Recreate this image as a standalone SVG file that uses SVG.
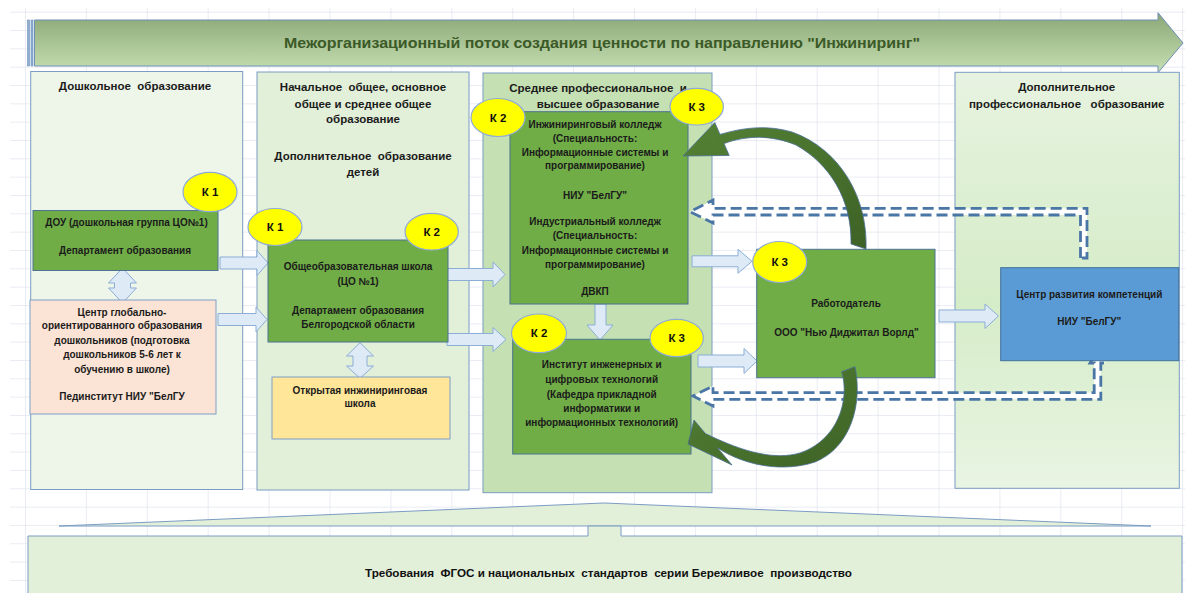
<svg xmlns="http://www.w3.org/2000/svg" width="1185" height="593" viewBox="0 0 1185 593" xml:space="preserve">
<defs>
<linearGradient id="gBanner" x1="0" y1="0" x2="0" y2="1">
<stop offset="0" stop-color="#8ba676"/><stop offset="1" stop-color="#c6e0b3"/>
</linearGradient>
<linearGradient id="gCol4" x1="0" y1="0" x2="0" y2="1">
<stop offset="0" stop-color="#e7f3e0"/><stop offset="0.55" stop-color="#d5ecc8"/><stop offset="1" stop-color="#e9f5e3"/>
</linearGradient>
<linearGradient id="gCurve" x1="0" y1="0" x2="1" y2="1">
<stop offset="0" stop-color="#548235"/><stop offset="1" stop-color="#3e6226"/>
</linearGradient>
<pattern id="grid" x="25" y="11.7" width="60.9" height="18.33" patternUnits="userSpaceOnUse">
<path d="M0,0 V18.33 M0,0 H60.9" fill="none" stroke="#d6dae8" stroke-width="1"/>
</pattern>
</defs>
<style>
.col{stroke:#7b9cc4;stroke-width:1}
.gbox{fill:#70ad47;stroke:#4d7390;stroke-width:1}
.k{fill:#ffff00;stroke:#8eaad8;stroke-width:1.2}
.ba{fill:#deebf7;stroke:#8badd6;stroke-width:1}
.dash{fill:#ffffff;stroke:#4a76a6;stroke-width:2.8;stroke-dasharray:11 5}
.curve{fill:url(#gCurve);stroke:#4a6f95;stroke-width:0.8}
text{font-family:"Liberation Sans",Arial,sans-serif;font-weight:bold;font-size:10px;fill:#1b1b1b;text-anchor:middle;white-space:pre}
.ti{font-size:11.5px}
.kt{font-size:11.5px;fill:#111}
.bn{font-size:14.5px;fill:#3b5a27}
.req{font-size:11.5px;fill:#111}
</style>

<!-- background grid -->
<rect x="0" y="0" width="1185" height="593" fill="#ffffff"/>
<rect x="10" y="8" width="1175" height="585" fill="url(#grid)"/>

<!-- banner -->
<g id="banner">
<rect x="27.5" y="20" width="2" height="46" fill="#8fb0d4" stroke="#6d8fb8" stroke-width="0.6"/>
<rect x="31" y="20" width="2" height="46" fill="#8fb0d4" stroke="#6d8fb8" stroke-width="0.6"/>
<path d="M34.5,20 H1158 V12.7 L1183,43 L1158,72.7 V66 H34.5 Z" fill="url(#gBanner)" stroke="#6d8fb8" stroke-width="1"/>
<text class="bn" x="602" y="48" textLength="636" lengthAdjust="spacingAndGlyphs">Межорганизационный поток создания ценности по направлению "Инжиниринг"</text>
</g>

<!-- columns -->
<g id="col-preschool">
<rect class="col" x="30.7" y="71.5" width="212" height="418" fill="#eef5e9"/>
<text class="ti" x="135" y="89.7">Дошкольное  образование</text>
</g>
<g id="col-school">
<rect class="col" x="257" y="72" width="212" height="418" fill="#e2efd9"/>
<text class="ti" x="363" y="90.7">Начальное  общее, основное</text>
<text class="ti" x="363" y="108">общее и среднее общее</text>
<text class="ti" x="363" y="123.3">образование</text>
<text class="ti" x="363" y="159.7">Дополнительное  образование</text>
<text class="ti" x="363" y="176">детей</text>
</g>
<g id="col-prof">
<rect class="col" x="483" y="73" width="229" height="419.7" fill="#c5e0b3"/>
<text class="ti" x="598" y="91.7">Среднее профессиональное  и</text>
<text class="ti" x="598" y="108.3">высшее образование</text>
</g>
<g id="col-dpo">
<rect class="col" x="955" y="72.3" width="224.3" height="416" fill="url(#gCol4)"/>
<text class="ti" x="1066.7" y="90.7">Дополнительное</text>
<text class="ti" x="1066.7" y="108">профессиональное   образование</text>
</g>

<!-- connectors -->
<g id="connectors">
<path class="ba" d="M220,257 L257,257 L257,250.5 L268,263 L257,275.5 L257,269 L220,269 Z"/>
<path class="ba" d="M218,313.5 L256,313.5 L256,307 L267,319.5 L256,332 L256,325.5 L218,325.5 Z"/>
<path class="ba" d="M447,268.5 L493,268.5 L493,262 L505,274.5 L493,287 L493,280.5 L447,280.5 Z"/>
<path class="ba" d="M447,333.5 L493,333.5 L493,327.5 L506,339.5 L493,351.5 L493,345.5 L447,345.5 Z"/>
<path class="ba" d="M595,304 L606,304 L606,325 L613,325 L600,340 L587,325 L595,325 Z"/>
<path class="ba" d="M692,255.8 L738,255.8 L738,249.3 L752,261.3 L738,273.3 L738,266.8 L692,266.8 Z"/>
<path class="ba" d="M698,355 L744,355 L744,348.5 L757,361 L744,373.5 L744,367 L698,367 Z"/>
<path class="ba" d="M939,310 L985,310 L985,304 L998.5,316 L985,328.5 L985,322 L939,322 Z"/>
<path class="ba" d="M122.5,268 L136.5,283 L130.5,283 L130.5,288 L136.5,288 L122.5,303 L108.5,288 L114.5,288 L114.5,283 L108.5,283 Z"/>
<path class="ba" d="M360,342.7 L373.5,356 L367,356 L367,366 L373.5,366 L360,378.3 L346.5,366 L353,366 L353,356 L346.5,356 Z"/>
<path class="dash" d="M1080.5,258 L1080.5,215 L713,215 L713,223 L690,211.7 L713,200 L713,208.4 L1087,208.4 L1087,258 Z"/>
<path class="dash" d="M1097.5,350 L1105,363 L1100.8,363 L1100.8,399.3 L713,399.3 L713,406 L693,396 L713,386 L713,392.7 L1094.2,392.7 L1094.2,363 L1090,363 Z"/>
</g>

<!-- nodes -->
<g id="n-dou">
<rect class="gbox" x="33" y="210.5" width="185" height="60"/>
<text x="126.5" y="225.5">ДОУ (дошкольная группа ЦО№1)</text>
<text x="125" y="253.5">Департамент образования</text>
</g>
<g id="k1-a"><ellipse class="k" cx="210" cy="192" rx="27" ry="19.7"/><text class="kt" x="210" y="196">К 1</text></g>

<g id="n-center">
<rect x="30" y="300" width="186" height="114" fill="#fbe4d5" stroke="#7f9fc6" stroke-width="1"/>
<text x="122" y="315.5">Центр глобально-</text>
<text x="122" y="329.2">ориентированного образования</text>
<text x="122" y="344.2">дошкольников (подготовка</text>
<text x="122" y="357.5">дошкольников 5-6 лет к</text>
<text x="122" y="372.5">обучению в школе)</text>
<text x="122" y="399.5">Пединститут НИУ "БелГУ</text>
</g>

<g id="n-school">
<rect class="gbox" x="268" y="240" width="180" height="102"/>
<text x="358" y="270.2">Общеобразовательная школа</text>
<text x="358" y="285.2">(ЦО №1)</text>
<text x="358" y="313.5">Департамент образования</text>
<text x="358" y="327.5">Белгородской области</text>
</g>
<g id="k1-b"><ellipse class="k" cx="275" cy="227" rx="27" ry="18.5"/><text class="kt" x="275" y="231">К 1</text></g>
<g id="k2-a"><ellipse class="k" cx="431.7" cy="231.7" rx="26.7" ry="18.3"/><text class="kt" x="431.7" y="235.7">К 2</text></g>

<g id="n-open">
<rect x="272" y="377" width="178" height="62" fill="#ffe699" stroke="#7f9fc6" stroke-width="1"/>
<text x="360" y="393.5">Открытая инжиниринговая</text>
<text x="360" y="406.5">школа</text>
</g>

<g id="n-colleges">
<rect class="gbox" x="510" y="111.7" width="178" height="192.3"/>
<text x="595" y="127.8">Инжиниринговый колледж</text>
<text x="595" y="141.8">(Специальность:</text>
<text x="595" y="155.8">Информационные системы и</text>
<text x="595" y="169.2">программирование)</text>
<text x="595" y="199.2">НИУ "БелГУ"</text>
<text x="595" y="225.2">Индустриальный колледж</text>
<text x="595" y="239.2">(Специальность:</text>
<text x="595" y="253.5">Информационные системы и</text>
<text x="595" y="267.5">программирование)</text>
<text x="595" y="294.5">ДВКП</text>
</g>
<g id="k2-b"><ellipse class="k" cx="498" cy="117.5" rx="27" ry="19"/><text class="kt" x="498" y="121.5">К 2</text></g>
<g id="k3-a"><ellipse class="k" cx="696.7" cy="106.7" rx="26.7" ry="18.3"/><text class="kt" x="696.7" y="110.7">К 3</text></g>

<g id="n-institute">
<rect class="gbox" x="512.7" y="339.3" width="178.3" height="114.7"/>
<text x="601.7" y="367.8">Институт инженерных и</text>
<text x="601.7" y="382.8">цифровых технологий</text>
<text x="601.7" y="397.5">(Кафедра прикладной</text>
<text x="601.7" y="411.8">информатики и</text>
<text x="601.7" y="425.8">информационных технологий)</text>
</g>
<g id="k2-c"><ellipse class="k" cx="539" cy="333.3" rx="27.5" ry="19.3"/><text class="kt" x="539" y="337.3">К 2</text></g>
<g id="k3-b"><ellipse class="k" cx="676.7" cy="338" rx="26.7" ry="18.7"/><text class="kt" x="676.7" y="342">К 3</text></g>

<g id="n-employer">
<rect class="gbox" x="756.7" y="249.3" width="178.3" height="128.4"/>
<text x="846" y="306.8">Работодатель</text>
<text x="846.5" y="335.8">ООО "Нью Диджитал Ворлд"</text>
</g>
<g id="k3-c"><ellipse class="k" cx="779.7" cy="262" rx="27" ry="20.5"/><text class="kt" x="779.7" y="266">К 3</text></g>

<g id="n-competence">
<rect x="1000.7" y="267.7" width="178" height="93" fill="#5b9bd5" stroke="#41719c" stroke-width="1"/>
<text x="1089.3" y="297.5">Центр развития компетенций</text>
<text x="1089.3" y="325.2">НИУ "БелГУ"</text>
</g>

<!-- curved arrows -->
<g id="curves">
<path class="curve" d="M866,249 C868,200 842,150 792,132 C768,125 745,127 720,134.4 L714.8,122.5 L683,156 L729.2,155.5 L724,143.6 C747,135 772,135 796,145 C830,164 852,200 851,244 Z"/>
<path class="curve" d="M841.7,371.7 C850,400 838,440 800,453 C775,460 745,453 705.4,433.5 L694,420 L688,444 L732,465 L717.6,447.9 C747,467 785,472 815,462 C850,448 863,405 855,366.7 Z"/>
</g>

<!-- bottom requirements -->
<g id="n-requirements">
<polygon points="59,526 604,503 1151,526" fill="#e2efd9" stroke="#7b9cc4" stroke-width="1"/>
<path d="M28,536 H588 V526 H621 V536 H1182 V600 H28 Z" fill="#e2efd9" stroke="#7b9cc4" stroke-width="1"/>
<text class="req" x="608.5" y="577" textLength="487" lengthAdjust="spacingAndGlyphs">Требования  ФГОС и национальных  стандартов  серии Бережливое  производство</text>
</g>
</svg>
